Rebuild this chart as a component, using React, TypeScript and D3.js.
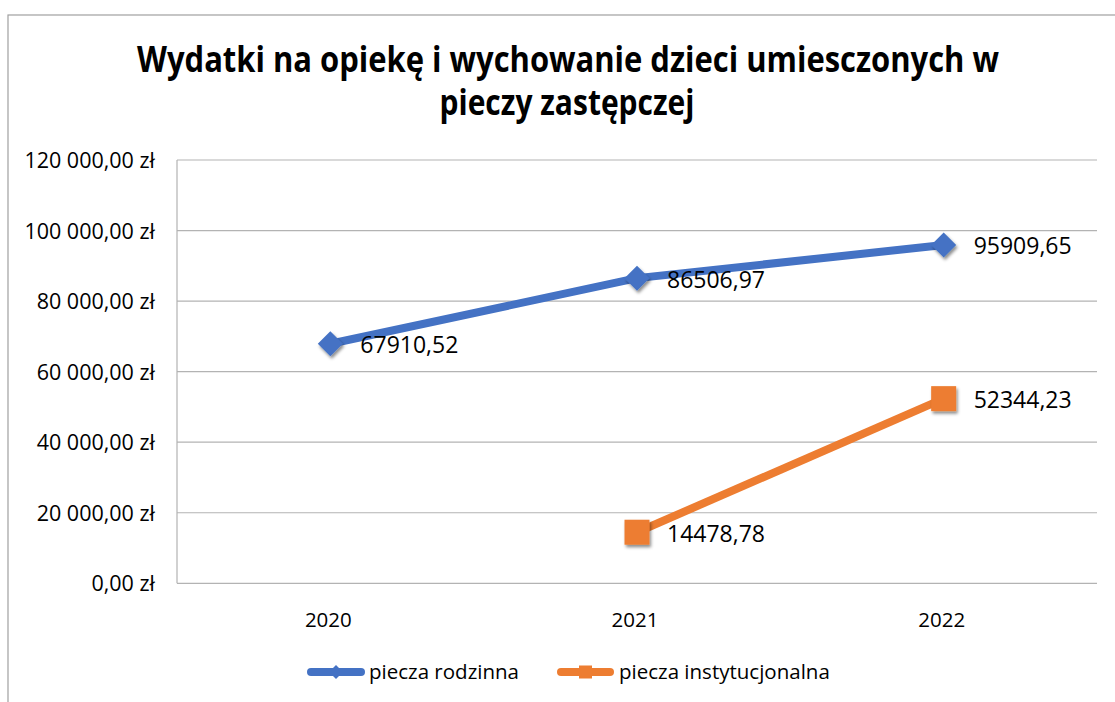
import React, { useLayoutEffect, useRef, useState } from "react";
import * as d3 from "d3";

const titleLines = [
  "Wydatki na opiekę i wychowanie dzieci umiesczonych w",
  "pieczy zastępczej",
];
const years = ["2020", "2021", "2022"];
const rodzinna: (number | null)[] = [67910.52, 86506.97, 95909.65];
const instytucjonalna: (number | null)[] = [null, 14478.78, 52344.23];
const seriesNames = ["piecza rodzinna", "piecza instytucjonalna"];
const yTickValues = [0, 20000, 40000, 60000, 80000, 100000, 120000];
const yTickLabels = [
  "0,00 zł",
  "20 000,00 zł",
  "40 000,00 zł",
  "60 000,00 zł",
  "80 000,00 zł",
  "100 000,00 zł",
  "120 000,00 zł",
];

const W = 1115;
const H = 702;
const BLUE = "#4472C4";
const ORANGE = "#ED7D31";
const GRID = "#b3b3b3";
const FONT = "'Open Sans', 'Liberation Sans', sans-serif";

const titleTargets = [
  { cx: 568, y: 72, width: 862 },
  { cx: 567, y: 115, width: 255 },
];

export default function App() {
  const t0 = useRef<SVGTextElement>(null);
  const t1 = useRef<SVGTextElement>(null);
  const [scales, setScales] = useState<number[]>([0.78, 0.78]);

  useLayoutEffect(() => {
    const refs = [t0, t1];
    const s = refs.map((r, i) => {
      const el = r.current;
      if (!el) return 0.78;
      const len = el.getComputedTextLength();
      return len > 0 ? titleTargets[i].width / len : 0.78;
    });
    setScales(s);
  }, []);

  const x = d3.scaleBand<string>().domain(years).range([177, 1097]).padding(0);
  const cx = (d: string) => (x(d) ?? 0) + x.bandwidth() / 2;
  const y = d3.scaleLinear().domain([0, 120000]).range([583.3, 160]);

  const line = d3
    .line<number | null>()
    .defined((d) => d !== null)
    .x((_, i) => cx(years[i]))
    .y((d) => y(d as number));

  const fmt = (v: number) => v.toFixed(2).replace(".", ",");

  const series = [
    { name: seriesNames[0], values: rodzinna, color: BLUE, marker: "diamond" },
    { name: seriesNames[1], values: instytucjonalna, color: ORANGE, marker: "square" },
  ];

  const marker = (kind: string, px: number, py: number, color: string, s: number, key: string, filter?: string) =>
    kind === "diamond" ? (
      <path
        key={key}
        d={`M${px},${py - s} L${px + s},${py} L${px},${py + s} L${px - s},${py} Z`}
        fill={color}
        filter={filter}
      />
    ) : (
      <rect key={key} x={px - s} y={py - s} width={2 * s} height={2 * s} fill={color} filter={filter} />
    );

  const legendItems = [
    { x0: 307, x1: 365, tx: 369 },
    { x0: 557, x1: 614, tx: 619 },
  ];

  const titleRefs = [t0, t1];

  return (
    <svg
      width={W}
      height={H}
      style={{ position: "absolute", left: 0, top: 0, background: "#fff" }}
      fontFamily={FONT}
    >
      <defs>
        <filter id="shadow" x="-50%" y="-50%" width="200%" height="200%">
          <feDropShadow dx="1.5" dy="2.5" stdDeviation="1.6" floodColor="#000" floodOpacity="0.45" />
        </filter>
      </defs>
      <rect x={0} y={0} width={W} height={H} fill="#fff" />
      <rect x={8} y={15} width={W + 20} height={H + 20} fill="none" stroke="#a0a0a0" strokeWidth={1.2} />

      {/* Title */}
      {titleLines.map((t, i) => (
        <text
          key={"t" + i}
          ref={titleRefs[i]}
          transform={`translate(${titleTargets[i].cx},${titleTargets[i].y}) scale(${scales[i]},1)`}
          textAnchor="middle"
          fontSize={35}
          fontWeight={700}
          fill="#000"
        >
          {t}
        </text>
      ))}

      {/* Gridlines */}
      {yTickValues.map((v, i) => (
        <g key={"g" + i}>
          <line x1={177} x2={1097} y1={y(v)} y2={y(v)} stroke={GRID} strokeWidth={1.2} />
          <text x={155} y={y(v) + 8} textAnchor="end" fontSize={21.5} fill="#000">
            {yTickLabels[i]}
          </text>
        </g>
      ))}
      <line x1={177} x2={177} y1={y(120000)} y2={y(0)} stroke={GRID} strokeWidth={1.2} />

      {/* X labels */}
      {years.map((yr) => (
        <text key={yr} x={cx(yr) - 2} y={627} textAnchor="middle" fontSize={20.5} fill="#000">
          {yr}
        </text>
      ))}

      {/* Series */}
      {series.map((s) => (
        <g key={s.name}>
          <path d={line(s.values) ?? ""} fill="none" stroke={s.color} strokeWidth={8} strokeLinejoin="round" />
          {s.values.map((v, i) =>
            v === null ? null : marker(s.marker, cx(years[i]), y(v), s.color, 12.5, s.name + i, "url(#shadow)")
          )}
          {s.values.map((v, i) =>
            v === null ? null : (
              <text key={"l" + i} x={cx(years[i]) + 30} y={y(v) + 9.5} fontSize={23} fill="#000">
                {fmt(v)}
              </text>
            )
          )}
        </g>
      ))}

      {/* Legend */}
      {series.map((s, i) => {
        const L = legendItems[i];
        const mx = (L.x0 + L.x1) / 2;
        return (
          <g key={"leg" + i}>
            <line x1={L.x0 + 4} x2={L.x1 - 4} y1={672} y2={672} stroke={s.color} strokeWidth={8} strokeLinecap="round" />
            {marker(s.marker, mx, 672, s.color, s.marker === "diamond" ? 7 : 6.5, "lm" + i)}
            <text x={L.tx} y={679} fontSize={20.5} fill="#000">
              {s.name}
            </text>
          </g>
        );
      })}
    </svg>
  );
}
